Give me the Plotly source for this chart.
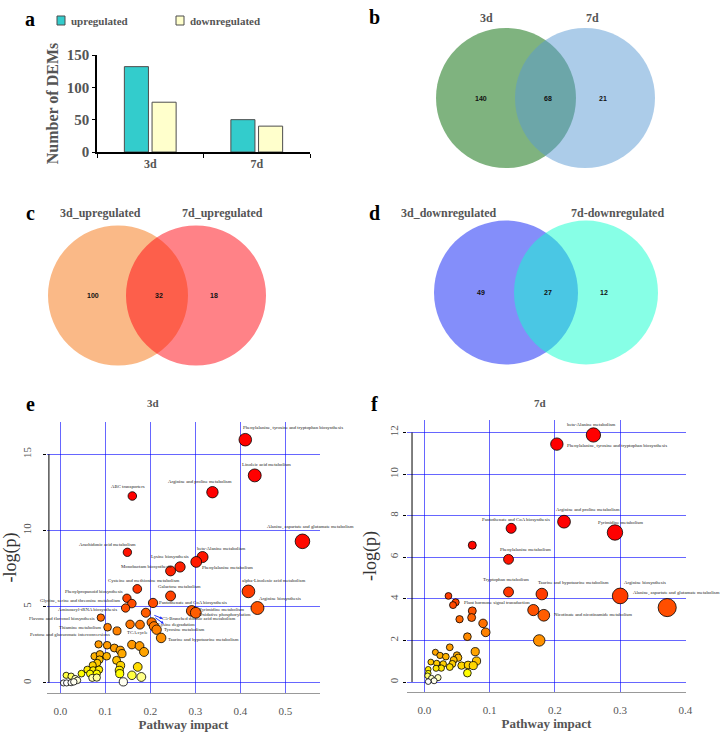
import plotly.graph_objects as go

# ---------------- data ----------------
bar_categories = ["3d", "7d"]
upregulated = [132, 50]
downregulated = [77, 40]

venn_b_sets = ["3d", "7d"]
venn_b_counts = [140, 68, 21]
venn_c_sets = ["3d_upregulated", "7d_upregulated"]
venn_c_counts = [100, 32, 18]
venn_d_sets = ["3d_downregulated", "7d-downregulated"]
venn_d_counts = [49, 27, 12]

# panel e: 3d pathway analysis
e_impact = [0.411, 0.432, 0.338, 0.160, 0.538, 0.149, 0.316, 0.266, 0.302, 0.245,
            0.171, 0.245, 0.418, 0.438, 0.148, 0.159, 0.206, 0.145, 0.292, 0.301,
            0.190, 0.090, 0.203, 0.208, 0.214, 0.155, 0.177, 0.105, 0.126, 0.224,
            0.085, 0.104, 0.120, 0.133, 0.137, 0.159, 0.176, 0.186, 0.076, 0.088,
            0.103, 0.087, 0.082, 0.125, 0.134, 0.072, 0.060, 0.073, 0.086, 0.047,
            0.066, 0.081, 0.071, 0.081, 0.131, 0.132, 0.172, 0.159, 0.180, 0.140,
            0.013, 0.024, 0.033, 0.038, 0.007, 0.014, 0.024, 0.030]
e_logp = [15.94, 13.60, 12.50, 12.25, 9.28, 8.56, 8.25, 7.60, 7.93, 7.34,
          6.16, 5.70, 6.00, 4.91, 5.55, 5.20, 5.24, 4.91, 4.72, 4.60,
          4.60, 4.28, 3.97, 3.71, 3.49, 3.84, 3.82, 3.65, 3.41, 2.95,
          2.53, 2.47, 2.29, 2.14, 1.92, 2.51, 2.42, 2.03, 1.75, 1.88,
          1.75, 1.53, 1.31, 1.48, 1.14, 1.16, 0.87, 0.83, 0.87, 0.61,
          0.61, 0.61, 0.33, 0.35, 0.83, 0.61, 1.05, 0.50, 0.39, 0.07,
          0.50, 0.44, 0.28, 0.17, 0.00, 0.00, 0.02, 0.07]
e_names = ["Phenylalanine, tyrosine and tryptophan biosynthesis", "Linoleic acid metabolism",
           "Arginine and proline metabolism", "ABC transporters",
           "Alanine, aspartate and glutamate metabolism", "Arachidonic acid metabolism",
           "beta-Alanine metabolism", "Lysine biosynthesis", "Phenylalanine metabolism",
           "Monobactam biosynthesis", "Cysteine and methionine metabolism", "Galactose metabolism",
           "alpha-Linolenic acid metabolism", "Arginine biosynthesis", "Phenylpropanoid biosynthesis",
           "Glycine, serine and threonine metabolism", "Pantothenate and CoA biosynthesis",
           "Aminoacyl-tRNA biosynthesis", "Pyrimidine metabolism", "Oxidative phosphorylation",
           "C5-Branched dibasic acid metabolism", "Flavone and flavonol biosynthesis",
           "Lysine degradation", "", "Tyrosine metabolism", "TCA cycle", "",
           "Thiamine metabolism", "Pentose and glucuronate interconversions",
           "Taurine and hypotaurine metabolism"] + [""] * 38

# panel f: 7d pathway analysis
f_impact = [0.259, 0.203, 0.214, 0.133, 0.292, 0.0735, 0.129, 0.129, 0.180, 0.300,
            0.372, 0.037, 0.048, 0.044, 0.0735, 0.0725, 0.054, 0.167, 0.183, 0.090,
            0.094, 0.066, 0.176,
            0.039, 0.078, 0.017, 0.024, 0.033, 0.050, 0.052, 0.045, 0.080, 0.010,
            0.019, 0.029, 0.043, 0.057, 0.067, 0.075, 0.039, 0.026, 0.018, 0.066,
            0.006, 0.006, 0.005, 0.011, 0.021, 0.015, 0.006]
f_logp = [11.88, 11.44, 7.71, 7.39, 7.19, 6.58, 5.90, 4.33, 4.23, 4.14,
          3.58, 4.14, 3.83, 3.70, 3.42, 3.10, 3.02, 3.46, 3.21, 2.82,
          2.39, 2.18, 2.00,
          1.67, 1.46, 1.43, 1.28, 1.22, 1.28, 1.17, 1.06, 1.01, 0.96,
          0.90, 0.87, 0.87, 0.79, 0.82, 0.79, 0.72, 0.67, 0.66, 0.43,
          0.61, 0.42, 0.30, 0.18, 0.21, 0.06, 0.02]
f_names = ["beta-Alanine metabolism", "Phenylalanine, tyrosine and tryptophan biosynthesis",
           "Arginine and proline metabolism", "Pantothenate and CoA biosynthesis",
           "Pyrimidine metabolism", "", "Phenylalanine metabolism", "Tryptophan metabolism",
           "Taurine and hypotaurine metabolism", "Arginine biosynthesis",
           "Alanine, aspartate and glutamate metabolism", "", "Plant hormone signal transduction",
           "", "", "", "", "", "Nicotinate and nicotinamide metabolism"] + [""] * 32

# ---------------- layout helpers ----------------
W, H = 726, 737
SERIF = "Liberation Serif, Times New Roman, serif"
SANS = "Liberation Sans, Arial, sans-serif"
GREY = "#555555"
GRID = "rgba(0,0,255,0.6)"
UP_COLOR = "#33CCCC"
DOWN_COLOR = "#FFFFCC"
BAR_EDGE = "#4D4D4D"


def px(x):
    return x / W


def py(y):
    return 1 - y / H


HEAT = [[0, "#FFFFFF"], [0.03, "#FFFFC0"], [0.06, "#FFFF00"], [0.12, "#FFD000"],
        [0.2, "#FFA500"], [0.35, "#FF8000"], [0.5, "#FF5000"], [0.7, "#FF2500"], [1, "#FF0000"]]

# label offsets (px) for pathway names: (dx, dy), dy positive = up
e_offsets = {
    "Phenylalanine, tyrosine and tryptophan biosynthesis": (48, 12),
    "Linoleic acid metabolism": (12, 11),
    "Arginine and proline metabolism": (-12, 11),
    "ABC transporters": (-4, 10),
    "Alanine, aspartate and glutamate metabolism": (8, 14),
    "Arachidonic acid metabolism": (-20, 8),
    "beta-Alanine metabolism": (19, 9),
    "Lysine biosynthesis": (-10, 10),
    "Phenylalanine metabolism": (31, -6),
    "Monobactam biosynthesis": (-25, 4),
    "Cysteine and methionine metabolism": (7, 8),
    "Galactose metabolism": (9, 9),
    "alpha-Linolenic acid metabolism": (25, 11),
    "Arginine biosynthesis": (23, 10),
    "Phenylpropanoid biosynthesis": (-33, 7),
    "Glycine, serine and threonine metabolism": (-52, 3),
    "Pantothenate and CoA biosynthesis": (40, 0),
    "Aminoacyl-tRNA biosynthesis": (-38, -1),
    "Pyrimidine metabolism": (30, 1),
    "Oxidative phosphorylation": (29, -2),
    "C5-Branched dibasic acid metabolism": (53, -6),
    "Flavone and flavonol biosynthesis": (-39, -1),
    "Lysine degradation": (25, -2),
    "Tyrosine metabolism": (28, 0),
    "TCA cycle": (7, -8),
    "Thiamine metabolism": (-28, 0),
    "Pentose and glucuronate interconversions": (-47, -4),
    "Taurine and hypotaurine metabolism": (42, -2),
}
f_offsets = {
    "beta-Alanine metabolism": (-2, 10),
    "Phenylalanine, tyrosine and tryptophan biosynthesis": (60, -2),
    "Arginine and proline metabolism": (24, 12),
    "Pantothenate and CoA biosynthesis": (5, 9),
    "Pyrimidine metabolism": (6, 10),
    "Phenylalanine metabolism": (17, 10),
    "Tryptophan metabolism": (-3, 12),
    "Taurine and hypotaurine metabolism": (32, 12),
    "Arginine biosynthesis": (25, 13),
    "Alanine, aspartate and glutamate metabolism": (9, 15),
    "Plant hormone signal transduction": (41, 0),
    "Nicotinate and nicotinamide metabolism": (49, 1),
}

fig = go.Figure()

# ---------------- panel a: bars ----------------
fig.add_trace(go.Bar(x=bar_categories, y=upregulated, name="upregulated", showlegend=False,
                     marker=dict(color=UP_COLOR, line=dict(color=BAR_EDGE, width=1))))
fig.add_trace(go.Bar(x=bar_categories, y=downregulated, name="downregulated", showlegend=False,
                     marker=dict(color=DOWN_COLOR, line=dict(color=BAR_EDGE, width=1))))


# ---------------- panels e / f: pathway bubbles ----------------
def pathway_trace(impact, logp, xa, ya, cmax, base, slope):
    return go.Scatter(x=impact, y=logp, mode="markers", xaxis=xa, yaxis=ya, showlegend=False,
                      marker=dict(size=[base + slope * v for v in impact], color=logp,
                                  colorscale=HEAT, cmin=0, cmax=cmax, opacity=1,
                                  line=dict(color="black", width=0.8)))


fig.add_trace(pathway_trace(e_impact, e_logp, "x2", "y2", 10, 6, 16))
fig.add_trace(pathway_trace(f_impact, f_logp, "x3", "y3", 7, 5.5, 34))

annotations = []
shapes = []


def note(x, y, text, font, **kw):
    d = dict(x=x, y=y, xref="paper", yref="paper", text=text, showarrow=False,
             xanchor="center", yanchor="middle", font=font)
    d.update(kw)
    annotations.append(d)


def label_points(impact, logp, names, offsets, xref, yref):
    for xi, yi, nm in zip(impact, logp, names):
        if not nm:
            continue
        dx, dy = offsets[nm]
        note(xi, yi, nm, dict(family=SERIF, size=4.8, color="#222222"),
             xref=xref, yref=yref, xshift=dx, yshift=dy)


label_points(e_impact, e_logp, e_names, e_offsets, "x2", "y2")
label_points(f_impact, f_logp, f_names, f_offsets, "x3", "y3")

# small blue arrows in panel e
c5 = e_names.index("C5-Branched dibasic acid metabolism")
for hx, hy, tx, ty in [(17, -6, -10, -4), (18, -11, -10, -7)]:
    annotations.append(dict(x=e_impact[c5], y=e_logp[c5], xref="x2", yref="y2", text="",
                            showarrow=True, xshift=hx, yshift=hy, ax=tx, ay=ty,
                            arrowcolor="#2030FF", arrowwidth=1, arrowsize=0.6, arrowhead=2))

# R style left axis segments (first to last tick)
shapes.append(dict(type="line", xref="x2 domain", yref="y2", x0=0.007, x1=0.007, y0=0, y1=15,
                   line=dict(color="black", width=1)))
shapes.append(dict(type="line", xref="x3 domain", yref="y3", x0=0.018, x1=0.018, y0=0, y1=12,
                   line=dict(color="black", width=1)))

# legend of panel a (drawn by hand to match the swatch/text spacing)
legend_font = dict(family=SERIF, size=11, color=GREY, weight="bold")
for name, col, bx in [("upregulated", UP_COLOR, 57), ("downregulated", DOWN_COLOR, 176)]:
    shapes.append(dict(type="rect", xref="paper", yref="paper", x0=px(bx), x1=px(bx + 8),
                       y0=py(25), y1=py(16), fillcolor=col, line=dict(color=BAR_EDGE, width=1)))
    note(px(bx + 12), py(20.5), name, legend_font, xanchor="left")


# ---------------- venn panels b, c, d ----------------
def venn(sets, counts, cx1, cx2, cy, r, col1, col2, title_x, title_y):
    for cx, col in [(cx1, col1), (cx2, col2)]:
        shapes.append(dict(type="circle", xref="paper", yref="paper",
                           x0=px(cx - r), x1=px(cx + r), y0=py(cy + r), y1=py(cy - r),
                           fillcolor=col, line=dict(width=0), layer="below"))
    for txt, tx in zip(sets, title_x):
        note(px(tx), py(title_y), txt, dict(family=SERIF, size=12, color=GREY, weight="bold"))
    for n, cx in zip(counts, [cx1 - 25, (cx1 + cx2) / 2 + 2, cx2 + 18]):
        note(px(cx), py(cy), str(n), dict(family=SANS, size=7, color="#111111", weight="bold"))


venn(venn_b_sets, venn_b_counts, 506, 585, 98, 70,
     "rgba(0,103,0,0.5)", "rgba(89,153,211,0.5)", [487, 592], 18)
venn(venn_c_sets, venn_c_counts, 118, 196, 295.5, 70,
     "rgba(245,115,15,0.5)", "rgba(255,5,15,0.5)", [100, 222], 213)
venn(venn_d_sets, venn_d_counts, 506, 586, 292.5, 72,
     "rgba(9,29,245,0.5)", "rgba(15,255,205,0.5)", [448, 617], 213)

# panel letters and sub titles
for letter, lx, ly in [("a", 30, 19), ("b", 375, 17), ("c", 30, 213), ("d", 375, 213),
                       ("e", 30, 404), ("f", 375, 404)]:
    note(px(lx), py(ly), letter, dict(family=SERIF, size=20, color="black", weight="bold"))
for t, tx in [("3d", 153), ("7d", 540)]:
    note(px(tx), py(403), t, dict(family=SERIF, size=11, color=GREY, weight="bold"))

tickfont_small = dict(family=SERIF, size=11, color=GREY)
impact_title = dict(text="Pathway impact", font=dict(family=SERIF, size=13, color=GREY, weight="bold"),
                    standoff=2)
logp_title = dict(text="-log(p)", font=dict(family=SERIF, size=18, color="#333333"), standoff=6)

fig.update_layout(
    width=W, height=H, autosize=False,
    margin=dict(l=0, r=0, t=0, b=0, pad=0, autoexpand=False),
    paper_bgcolor="white", plot_bgcolor="white",
    showlegend=False,
    barmode="group", bargap=0.48, bargroupgap=0.13,
    xaxis=dict(domain=[px(97), px(310)], anchor="y", range=[-0.5, 1.5], type="category",
               showline=True, linecolor="black", linewidth=1.5, ticks="outside",
               tickson="boundaries", ticklen=4, tickcolor="black", showgrid=False,
               tickfont=dict(family=SERIF, size=12, color=GREY, weight="bold")),
    yaxis=dict(domain=[py(152), py(55)], anchor="x", range=[0, 150], tickvals=[0, 50, 100, 150],
               showline=True, linecolor="black", linewidth=1.5, ticks="outside", ticklen=3,
               tickcolor="black", showgrid=False, zeroline=False,
               tickfont=dict(family=SERIF, size=15, color=GREY, weight="bold"),
               title=dict(text="Number of DEMs", standoff=4,
                          font=dict(family=SERIF, size=16, color=GREY, weight="bold"))),
    xaxis2=dict(domain=[px(47), px(320)], anchor="y2", range=[-0.0296, 0.577],
                tickvals=[0, 0.1, 0.2, 0.3, 0.4, 0.5],
                ticktext=["0.0", "0.1", "0.2", "0.3", "0.4", "0.5"],
                showgrid=True, gridcolor=GRID, gridwidth=1.3, zeroline=False,
                showline=True, linecolor="#999999", linewidth=1, ticks="",
                ticklabelstandoff=8, tickfont=tickfont_small, title=impact_title),
    yaxis2=dict(domain=[py(693), py(422)], anchor="x2", range=[-0.66, 17.1],
                tickvals=[0, 5, 10, 15], tickangle=-90,
                showgrid=True, gridcolor=GRID, gridwidth=1.3, zeroline=False,
                showline=False, ticks="outside", ticklen=3, tickcolor="black",
                ticklabelstandoff=8, tickfont=tickfont_small, title=logp_title),
    xaxis3=dict(domain=[px(407), px(686)], anchor="y3", range=[-0.0265, 0.4008],
                tickvals=[0, 0.1, 0.2, 0.3, 0.4],
                ticktext=["0.0", "0.1", "0.2", "0.3", "0.4"],
                showgrid=True, gridcolor=GRID, gridwidth=1.3, zeroline=False,
                showline=True, linecolor="#999999", linewidth=1, ticks="",
                ticklabelstandoff=8, tickfont=tickfont_small, title=impact_title),
    yaxis3=dict(domain=[py(692), py(420)], anchor="x3", range=[-0.48, 12.6],
                tickvals=[0, 2, 4, 6, 8, 10, 12], tickangle=-90,
                showgrid=True, gridcolor=GRID, gridwidth=1.3, zeroline=False,
                showline=False, ticks="outside", ticklen=3, tickcolor="black",
                ticklabelstandoff=1, tickfont=tickfont_small, title=logp_title),
    annotations=annotations,
    shapes=shapes,
)

# the page body has a default 8px margin; drop it so the figure fills the window
fig.write_html("out.html", config={"displayModeBar": False},
               post_script="document.body.style.margin = '0';")
